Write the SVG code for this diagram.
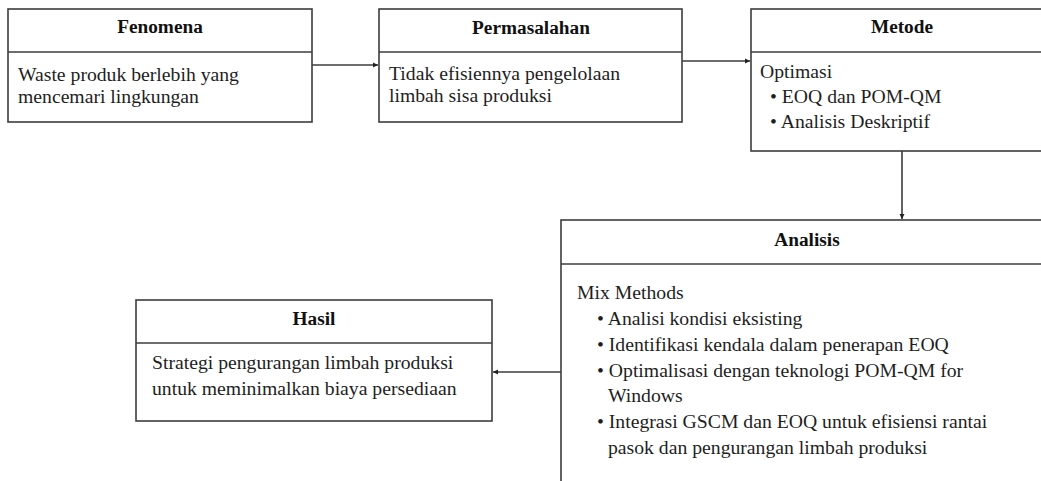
<svg xmlns="http://www.w3.org/2000/svg" width="1041" height="481" viewBox="0 0 1041 481">
<style>
.box{fill:#fff;stroke:#3c3c3c;stroke-width:1.6}
.div{stroke:#3c3c3c;stroke-width:1.6}
.t{font-family:"Liberation Serif","Times New Roman",serif;font-size:19.7px;fill:#1e1e1e}
.h{font-family:"Liberation Serif","Times New Roman",serif;font-size:19.3px;font-weight:bold;fill:#111;text-anchor:middle}
.c{fill:none;stroke:#3c3c3c;stroke-width:1.6}
</style>
<defs>
<marker id="ah" markerWidth="6" markerHeight="6" refX="5" refY="3" orient="auto" markerUnits="userSpaceOnUse">
<path d="M0,0.5 L5,3 L0,5.5 Z" fill="#222"/>
</marker>
</defs>
<rect width="1041" height="481" fill="#fff"/>
<g id="connectors">
<line class="c" x1="312" y1="65" x2="378" y2="65" marker-end="url(#ah)"/>
<line class="c" x1="682" y1="61" x2="750" y2="61" marker-end="url(#ah)"/>
<line class="c" x1="902" y1="151" x2="902" y2="219" marker-end="url(#ah)"/>
<line class="c" x1="561" y1="372" x2="493" y2="372" marker-end="url(#ah)"/>
</g>
<g id="fenomena">
<rect class="box" x="8" y="9" width="304" height="113"/>
<line class="div" x1="8" y1="52" x2="312" y2="52"/>
<text class="h" x="160" y="33">Fenomena</text>
<text class="t" x="18" y="81">Waste produk berlebih yang</text>
<text class="t" x="18" y="103">mencemari lingkungan</text>
</g>
<g id="permasalahan">
<rect class="box" x="379" y="9" width="303" height="113"/>
<line class="div" x1="379" y1="52" x2="682" y2="52"/>
<text class="h" x="531" y="34">Permasalahan</text>
<text class="t" x="389" y="80">Tidak efisiennya pengelolaan</text>
<text class="t" x="389" y="102">limbah sisa produksi</text>
</g>
<g id="metode">
<rect class="box" x="751" y="9" width="310" height="142"/>
<line class="div" x1="751" y1="52" x2="1061" y2="52"/>
<text class="h" x="902" y="33">Metode</text>
<text class="t" x="760" y="78">Optimasi</text>
<text class="t" x="770" y="103">• EOQ dan POM-QM</text>
<text class="t" x="770" y="128">• Analisis Deskriptif</text>
</g>
<g id="analisis">
<rect class="box" x="561" y="220" width="500" height="280"/>
<line class="div" x1="561" y1="264" x2="1061" y2="264"/>
<text class="h" x="807" y="246">Analisis</text>
<text class="t" x="577" y="299">Mix Methods</text>
<text class="t" x="597" y="325">• Analisi kondisi eksisting</text>
<text class="t" x="597" y="351">• Identifikasi kendala dalam penerapan EOQ</text>
<text class="t" x="597" y="377">• Optimalisasi dengan teknologi POM-QM for</text>
<text class="t" x="608" y="402">Windows</text>
<text class="t" x="597" y="428">• Integrasi GSCM dan EOQ untuk efisiensi rantai</text>
<text class="t" x="608" y="454">pasok dan pengurangan limbah produksi</text>
</g>
<g id="hasil">
<rect class="box" x="136" y="300" width="356" height="121"/>
<line class="div" x1="136" y1="343" x2="492" y2="343"/>
<text class="h" x="314" y="325">Hasil</text>
<text class="t" x="152" y="369">Strategi pengurangan limbah produksi</text>
<text class="t" x="152" y="395">untuk meminimalkan biaya persediaan</text>
</g>
</svg>
